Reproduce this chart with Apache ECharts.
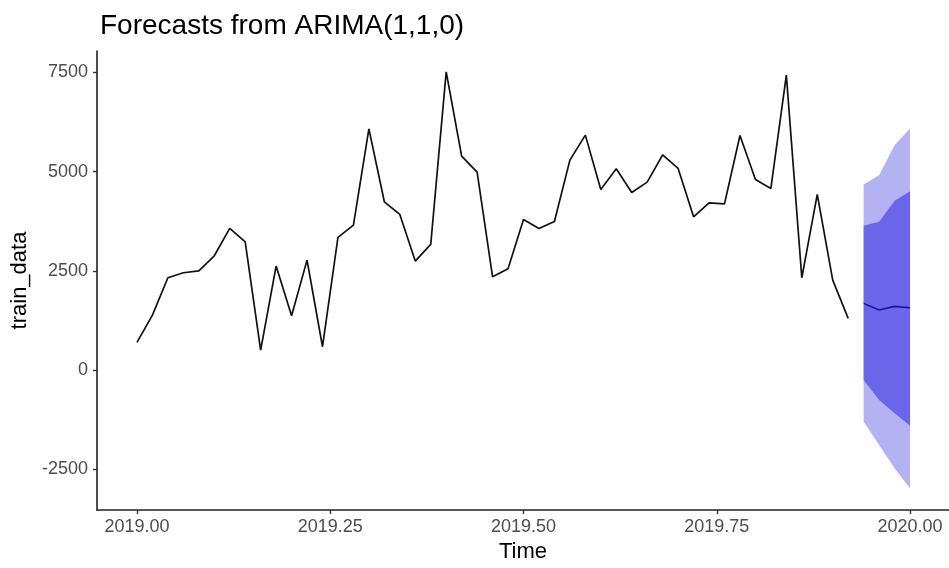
<!DOCTYPE html>
<html>
<head>
<meta charset="utf-8">
<title>Forecasts from ARIMA(1,1,0)</title>
<script src="https://cdn.jsdelivr.net/npm/echarts@6/dist/echarts.min.js"></script>
<style>
  html, body { margin: 0; padding: 0; background: #ffffff; }
  #chart { width: 949px; height: 568px; }
</style>
</head>
<body>
<div id="chart"></div>
<script>
// Weekly series (50 obs per year) starting at 2019.00
const startYear = 2019;
const frequency = 50;
const trainValues = [697, 1385, 2324, 2450, 2500, 2878, 3567, 3230, 504, 2618,
  1367, 2769, 587, 3340, 3650, 6075, 4238, 3920, 2744, 3164,
  7510, 5388, 4985, 2349, 2550, 3794, 3567, 3743, 5287, 5917,
  4549, 5068, 4474, 4733, 5421, 5078, 3860, 4212, 4187, 5909,
  4801, 4574, 7427, 2324, 4424, 2266, 1302];

// Four-step-ahead forecast with 80% and 95% intervals
const forecastMean = [1679, 1511, 1604, 1569];
const lower80 = [-252, -755, -1091, -1402];
const upper80 = [3633, 3733, 4262, 4506];
const lower95 = [-1301, -1888, -2475, -2979];
const upper95 = [4675, 4909, 5665, 6085];

const xTicks = [2019.00, 2019.25, 2019.50, 2019.75, 2020.00];
const yTicks = [-2500, 0, 2500, 5000, 7500];

const timeOf = i => startYear + i / frequency;
const trainSeries = trainValues.map((v, i) => [timeOf(i), v]);
const nObs = trainValues.length;
const fcTime = forecastMean.map((_, h) => timeOf(nObs + h));

const pairs = arr => arr.map((v, h) => [fcTime[h], v]);
const bandRows = (lo, hi) => lo.map((v, h) => [fcTime[h], v, hi[h]]);

const lightBand = '#b4b2f3';
const darkBand = '#6b66e9';

// Draws one closed ribbon through all rows of the series (lower edge forward, upper edge back)
function ribbon(color) {
  return function (params, api) {
    if (params.dataIndexInside !== 0) return null;
    const n = params.dataInsideLength;
    const pts = [];
    for (let j = 0; j < n; j++) pts.push(api.coord([api.value(0, j), api.value(1, j)]));
    for (let j = n - 1; j >= 0; j--) pts.push(api.coord([api.value(0, j), api.value(2, j)]));
    return { type: 'polygon', shape: { points: pts }, style: { fill: color } };
  };
}

const chart = echarts.init(document.getElementById('chart'), null, { renderer: 'canvas' });

const fontFamily = 'Liberation Sans, Arial, sans-serif';
const axisText = { color: '#4d4d4d', fontFamily: fontFamily, fontSize: 18 };

chart.setOption({
  animation: false,
  backgroundColor: '#ffffff',
  title: {
    text: 'Forecasts from ARIMA(1,1,0)',
    left: 95,
    top: 7,
    textStyle: { color: '#000000', fontFamily: fontFamily, fontSize: 28, fontWeight: 'normal' }
  },
  grid: { left: 97, right: 0, top: 51, bottom: 58, containLabel: false },
  xAxis: {
    type: 'value',
    min: 2018.9483,
    max: 2020.0504,
    name: 'Time',
    nameLocation: 'middle',
    nameGap: 31,
    nameTextStyle: { color: '#000000', fontFamily: fontFamily, fontSize: 22 },
    splitLine: { show: false },
    axisLine: { show: true, onZero: false, lineStyle: { color: '#222222', width: 1.6 } },
    axisTick: { show: true, length: 4, customValues: xTicks, lineStyle: { color: '#333333', width: 1.4 } },
    axisLabel: Object.assign({ margin: 8, customValues: xTicks, formatter: v => v.toFixed(2) }, axisText)
  },
  yAxis: {
    type: 'value',
    min: -3525,
    max: 8036,
    name: 'train_data',
    nameLocation: 'middle',
    nameGap: 57,
    nameTextStyle: { color: '#000000', fontFamily: fontFamily, fontSize: 22 },
    splitLine: { show: false },
    axisLine: { show: true, onZero: false, lineStyle: { color: '#222222', width: 1.6 } },
    axisTick: { show: true, length: 4, customValues: yTicks, lineStyle: { color: '#333333', width: 1.4 } },
    axisLabel: Object.assign({ margin: 9, customValues: yTicks, formatter: v => String(v) }, axisText)
  },
  series: [
    {
      name: '95%', type: 'custom', data: bandRows(lower95, upper95),
      encode: { x: 0, y: [1, 2] }, renderItem: ribbon(lightBand), silent: true, z: 1
    },
    {
      name: '80%', type: 'custom', data: bandRows(lower80, upper80),
      encode: { x: 0, y: [1, 2] }, renderItem: ribbon(darkBand), silent: true, z: 2
    },
    {
      name: 'train_data', type: 'line', data: trainSeries, z: 3,
      symbol: 'none', lineStyle: { color: '#111111', width: 1.7 }
    },
    {
      name: 'forecast', type: 'line', data: pairs(forecastMean), z: 4,
      symbol: 'none', lineStyle: { color: '#1a10b0', width: 1.6 }
    }
  ]
});
</script>
</body>
</html>
